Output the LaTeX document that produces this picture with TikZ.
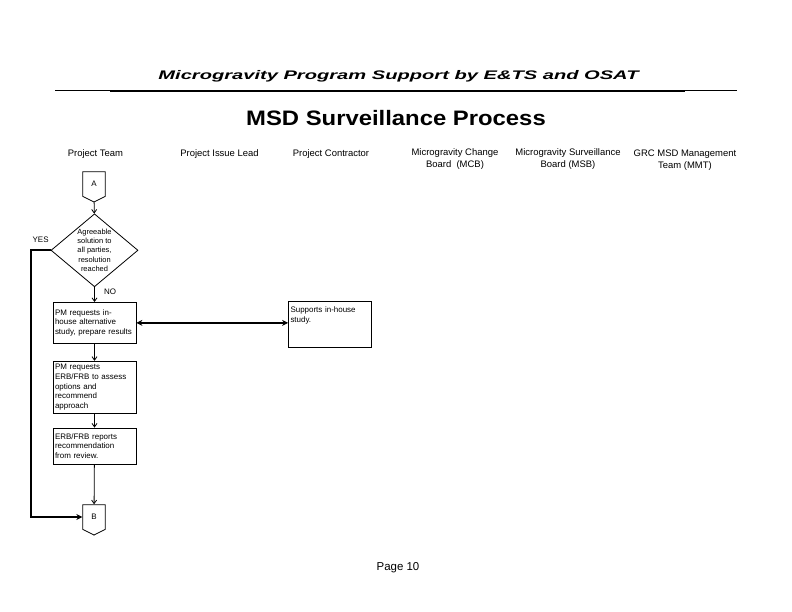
\documentclass[tikz,border=0pt]{standalone}
\usepackage{fontspec}
\setmainfont{Liberation Sans}
\usetikzlibrary{positioning, shapes.geometric, shapes.symbols, arrows.meta}

\begin{document}
\begin{tikzpicture}[x=1bp, y=-1bp,
    box/.style={draw, line width=0.8bp, anchor=north, align=left, inner sep=2bp, text width=79bp, minimum width=83bp, font=\fontsize{8}{9.7}\selectfont},
    decision/.style={draw, diamond, line width=0.8bp, minimum width=87bp, minimum height=73bp, inner sep=0pt},
    dectext/.style={align=center, font=\fontsize{7.5}{9.5}\selectfont},
    offpage/.style={draw, signal, signal to=south, signal pointer angle=126, line width=0.8bp, minimum width=22.5bp, minimum height=26bp, inner sep=0pt, font=\fontsize{8}{9}\selectfont},
    head/.style={anchor=north, align=center, inner sep=0pt, font=\fontsize{9.5}{12}\selectfont, execute at begin node={\rule{0pt}{8bp}}},
    small/.style={font=\fontsize{8}{9}\selectfont},
    flow/.style={line width=0.8bp, -{Straight Barb[length=3.5bp, width=5bp]}},
    main/.style={line width=2bp}]
  \useasboundingbox (0,0) rectangle (792,612);
  \node (title) at (398.5,76) {\fontsize{12.5}{14}\selectfont\scalebox{1.615}[1]{\bfseries\itshape Microgravity Program Support by E\&TS and OSAT}};
  \draw[line width=1bp] (55,90.5) -- (737,90.5);
  \draw[line width=2.5bp] (110,91) -- (685,91);
  \node (process) at (396,118) {\fontsize{21}{24}\selectfont\bfseries\scalebox{1.14}[1]{MSD Surveillance Process}};
  \node[head] (team) at (95.5,148) {Project Team};
  \node[head] (lead) at (219.5,148) {Project Issue Lead};
  \node[head] (contractor) at (331,148) {Project Contractor};
  \node[head] (mcb) at (455,148) {Microgravity Change\\Board\ \ (MCB)};
  \node[head] (msb) at (568,148) {Microgravity Surveillance\\Board (MSB)};
  \node[head] (mmt) at (685,150) {GRC MSD Management\\Team (MMT)};
  \node[offpage] (A) at (94,184) {A};
  \node[decision, label={[dectext]center:{Agreeable\\solution to\\all parties,\\resolution\\reached}}] (dec) at (94.5,250.3) {};
  \node[box, minimum height=41bp] (study) at (94.5,302) {PM requests in-\\house alternative\\study, prepare results};
  \node[box, minimum height=52bp, below=17bp of study] (assess) {PM requests\\ERB/FRB to assess\\options and\\recommend\\approach};
  \node[box, minimum height=36bp, below=14bp of assess] (report) {ERB/FRB reports\\recommendation\\from review.};
  \node[offpage] (B) at (94,517) {B};
  \node[box, minimum height=46bp] (support) at (330,301) {Supports in-house\\study.\\~\\~};
  \node (page) at (398,568) {\fontsize{11.5}{13}\selectfont Page 10};
  \draw[flow] (A) -- (dec);
  \draw[flow] (dec) -- node[pos=0.3, right=6bp, small] {NO} (study);
  \draw[main, {Stealth[length=6bp, width=6bp]}-{Stealth[length=6bp, width=6bp]}] (study.east) -- (study.east -| support.west);
  \draw[flow] (study) -- (assess);
  \draw[flow] (assess) -- (report);
  \draw[flow] (report) -- (B);
  \draw[main, -{Stealth[length=6bp, width=6bp]}] (dec.west) -- ++(-20,0) node[midway, above=3bp, small] {YES} |- (B.west);
\end{tikzpicture}
\end{document}
